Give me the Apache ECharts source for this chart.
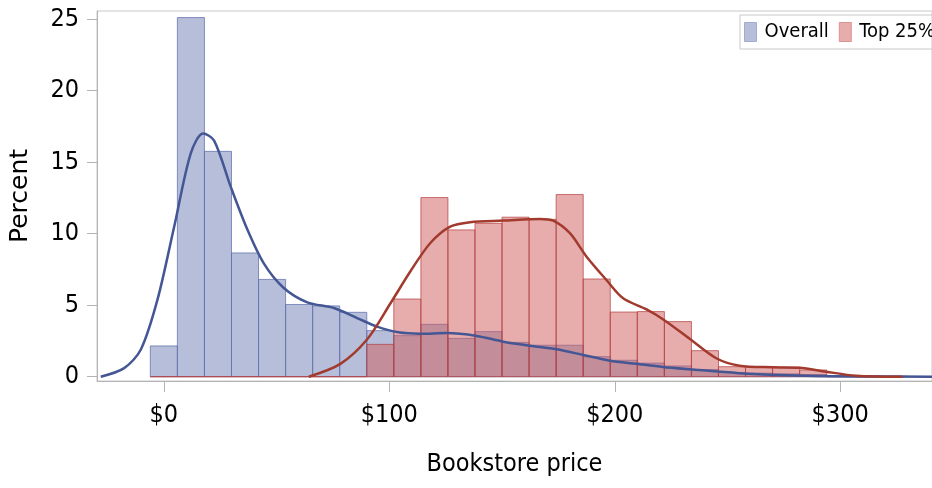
<!DOCTYPE html>
<html>
<head>
<meta charset="utf-8">
<script src="https://cdn.jsdelivr.net/npm/echarts@6/dist/echarts.min.js"></script>
<style>
html,body{margin:0;padding:0;background:#fff;}
#chart{width:932px;height:488px;}
</style>
</head>
<body>
<div id="chart"></div>
<script>
// Histogram bin centres (bin width 12)
const binWidth = 12;
const binCenters = [0, 12, 24, 36, 48, 60, 72, 84, 96, 108, 120, 132, 144, 156, 168, 180, 192, 204, 216, 228, 240, 252, 264, 276, 288, 300, 312, 324];
// Percent per bin
const overallPct = [2.15, 25.1, 15.75, 8.65, 6.8, 5.05, 4.95, 4.5, 3.22, 2.87, 3.66, 2.68, 3.15, 2.4, 2.2, 2.2, 1.4, 1.15, 0.95, 0.75, 0.5, 0.3, 0.25, 0.2, 0.15, 0.08, 0.05, 0.03];
const top25Pct = [0, 0, 0, 0, 0, 0, 0, 0, 2.26, 5.43, 12.52, 10.26, 10.72, 11.15, 11.0, 12.73, 6.83, 4.52, 4.55, 3.85, 1.82, 0.7, 0.7, 0.67, 0.47, 0, 0, 0];

// Kernel density curves (x, percent)
const overallDensity = [[-28, 0], [-17.6, 0.6], [-10.2, 1.9], [-2.8, 5.4], [4.6, 10.5], [11.9, 15.6], [17.4, 17.0], [22.3, 16.5], [29.6, 13.3], [37, 10.3], [44.4, 7.9], [53.2, 6.2], [63.6, 5.2], [75.4, 4.8], [85.7, 4.1], [94.6, 3.5], [104, 3.1], [113.7, 3.0], [125.5, 3.05], [138.8, 2.85], [150.6, 2.45], [162.4, 2.17], [174.2, 1.92], [186, 1.52], [197.8, 1.12], [209.6, 0.9], [221.4, 0.68], [233.2, 0.52], [255, 0.25], [285, 0.07], [310, 0.02], [341, 0]];
const top25Density = [[64.3, 0], [78.3, 0.9], [90.1, 2.6], [100.4, 5.1], [109.3, 7.35], [118.1, 9.33], [127, 10.49], [135.8, 10.8], [150.6, 10.91], [166.8, 11.03], [172.7, 10.91], [180.1, 10.03], [187.5, 8.39], [196.3, 6.76], [203.7, 5.48], [214.1, 4.7], [222, 3.95], [233.2, 2.65], [245, 1.29], [255.3, 0.77], [270, 0.66], [281.9, 0.63], [293.7, 0.35], [307, 0.07], [327.6, 0]];

// Axis ticks
const xTicks = [0, 100, 200, 300];
const yTicks = [0, 5, 10, 15, 20, 25];

const narrow = "'Liberation Sans Narrow', 'DejaVu Sans Condensed', 'Arial Narrow', sans-serif";

function makeBars(vals) {
  return binCenters.map((c, i) => [c, vals[i]]);
}

function barRenderer(fill, stroke) {
  return function (params, api) {
    const x = api.value(0), y = api.value(1);
    const p0 = api.coord([x - binWidth / 2, y]);
    const p1 = api.coord([x + binWidth / 2, 0]);
    return {
      type: 'rect',
      shape: { x: p0[0], y: p0[1], width: p1[0] - p0[0], height: p1[1] - p0[1] },
      style: { fill: fill, stroke: stroke, lineWidth: 1 }
    };
  };
}

const blueFill = 'rgba(111,126,179,0.5)';
const blueStroke = 'rgba(96,112,172,0.75)';
const redFill = 'rgba(208,91,91,0.5)';
const redStroke = 'rgba(180,60,60,0.7)';

const chart = echarts.init(document.getElementById('chart'));
chart.setOption({
  animation: false,
  backgroundColor: '#fff',
  grid: { left: 96, right: -1, top: 11, bottom: 107, show: true, borderColor: '#c8c8c8', borderWidth: 1 },
  legend: {
    orient: 'horizontal',
    left: 740, top: 15, width: 400,
    padding: [4, 6, 4, 4],
    itemGap: 10,
    itemWidth: 12, itemHeight: 19,
    borderColor: '#c8c8c8', borderWidth: 1,
    icon: 'rect',
    textStyle: { fontSize: 20, fontFamily: narrow, color: '#000', lineHeight: 26, padding: [0, 0, 0, 3] },
    data: [
      { name: 'Overall', itemStyle: { color: '#b7bed9', borderColor: '#a3acd0', borderWidth: 1 } },
      { name: 'Top 25%', itemStyle: { color: '#e7adad', borderColor: '#d99494', borderWidth: 1 } }
    ]
  },
  xAxis: {
    type: 'value',
    min: -29.65, max: 340.7,
    name: 'Bookstore price',
    nameLocation: 'middle',
    nameGap: 71,
    nameTextStyle: { fontSize: 25, fontFamily: narrow, color: '#000' },
    axisLine: { show: true, onZero: false, lineStyle: { color: '#b4b4b4', width: 1 } },
    axisTick: { show: true, length: 11, customValues: xTicks, lineStyle: { color: '#b4b4b4' } },
    axisLabel: { customValues: xTicks, margin: 22, fontSize: 25, fontFamily: narrow, color: '#000', formatter: v => '$' + v },
    splitLine: { show: false }
  },
  yAxis: {
    type: 'value',
    min: -0.3, max: 25.56,
    name: 'Percent',
    nameLocation: 'middle',
    nameGap: 64,
    nameRotate: 90,
    nameTextStyle: { fontSize: 25, fontFamily: "'DejaVu Sans', sans-serif", color: '#000' },
    axisLine: { show: true, onZero: false, lineStyle: { color: '#b4b4b4', width: 1 } },
    axisTick: { show: true, length: 10, customValues: yTicks, lineStyle: { color: '#b4b4b4' } },
    axisLabel: { customValues: yTicks, margin: 18, fontSize: 25, fontFamily: narrow, color: '#000' },
    splitLine: { show: false }
  },
  series: [
    {
      name: 'Overall', type: 'custom',
      renderItem: barRenderer(blueFill, blueStroke),
      itemStyle: { color: blueFill },
      encode: { x: 0, y: 1 },
      data: makeBars(overallPct), z: 2
    },
    {
      name: 'Top 25%', type: 'custom',
      renderItem: barRenderer(redFill, redStroke),
      itemStyle: { color: redFill },
      encode: { x: 0, y: 1 },
      data: makeBars(top25Pct), z: 2
    },
    {
      name: 'Overall density', type: 'line',
      data: overallDensity, smooth: 0.3,
      showSymbol: false, lineStyle: { color: '#445694', width: 2.5 }, itemStyle: { color: '#445694' }, z: 3
    },
    {
      name: 'Top 25% density', type: 'line',
      data: top25Density, smooth: 0.3,
      showSymbol: false, lineStyle: { color: '#A23A2E', width: 2.5 }, itemStyle: { color: '#A23A2E' }, z: 3
    }
  ]
});
</script>
</body>
</html>
